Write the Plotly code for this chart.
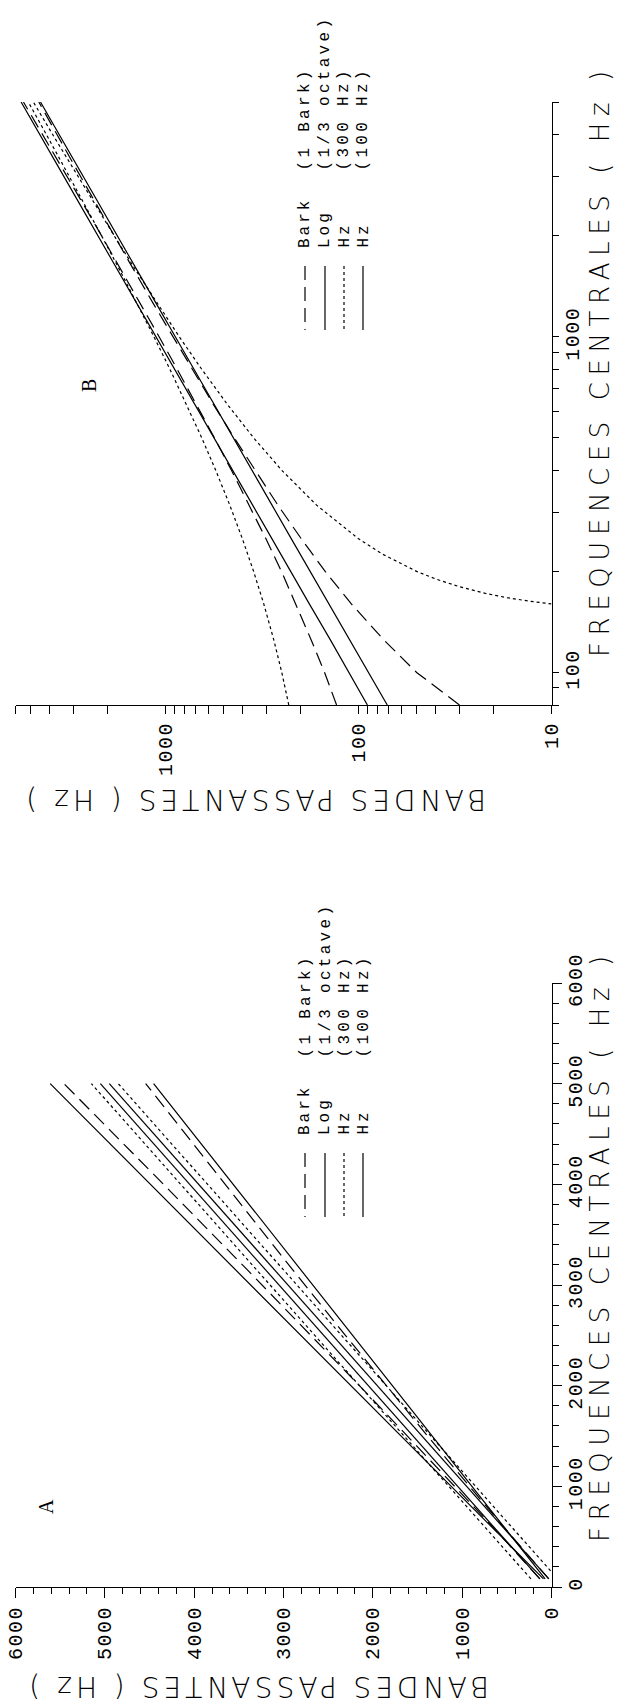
import numpy as np
import plotly.graph_objects as go

W, H = 628, 1706

# ---------------- data ----------------
FREQ = [80, 100, 125, 160, 200, 250, 315, 400, 500, 630, 800, 1000, 1250, 1600, 2000, 2500, 3150, 4000, 5000]
BARK_UP = [130, 150, 176, 211, 251, 302, 369, 456, 559, 693, 871, 1081, 1346, 1720, 2150, 2693, 3404, 4343, 5457]
BARK_LO = [30, 50, 74, 109, 149, 198, 262, 344, 441, 567, 729, 919, 1154, 1480, 1850, 2307, 2896, 3657, 4543]
LOG_UP = [90, 112, 140, 180, 224, 281, 354, 449, 561, 707, 898, 1122, 1403, 1796, 2245, 2806, 3536, 4490, 5612]
LOG_LO = [71, 89, 111, 143, 178, 223, 281, 356, 445, 561, 713, 891, 1114, 1425, 1782, 2227, 2806, 3564, 4454]
HZ300_UP = [230, 250, 275, 310, 350, 400, 465, 550, 650, 780, 950, 1150, 1400, 1750, 2150, 2650, 3300, 4150, 5150]
FREQ_300LO = [160, 163, 167, 172, 180, 190, 200, 225, 250, 315, 400, 500, 630, 800, 1000, 1250, 1600, 2000, 2500, 3150, 4000, 5000]
HZ300_LO = [10, 13, 17, 22, 30, 40, 50, 75, 100, 165, 250, 350, 480, 650, 850, 1100, 1450, 1850, 2350, 3000, 3850, 4850]
HZ100_UP = [130, 150, 175, 210, 250, 300, 365, 450, 550, 680, 850, 1050, 1300, 1650, 2050, 2550, 3200, 4050, 5050]
HZ100_LO = [30, 50, 75, 110, 150, 200, 265, 350, 450, 580, 750, 950, 1200, 1550, 1950, 2450, 3100, 3950, 4950]

LOG_BANDES_TICKS = [10, 20, 30, 40, 50, 60, 70, 80, 90, 100, 200, 300, 400, 500, 600, 700, 800, 900,
                    1000, 2000, 3000, 4000, 5000, 6000]
LOG_BANDES_LABELS = ["10", "", "", "", "", "", "", "", "", "100", "", "", "", "", "", "", "", "",
                     "1000", "", "", "", "", ""]
LOG_FREQ_TICKS = [80, 90, 100, 200, 300, 400, 500, 600, 700, 800, 900, 1000, 2000, 3000, 4000, 5000]
LOG_FREQ_LABELS = ["", "", "100", "", "", "", "", "", "", "", "", "1000", "", "", "", ""]
LIN_TICKS = [0, 1000, 2000, 3000, 4000, 5000, 6000]
LIN_LABELS = ["0", "1000", "2000", "3000", "4000", "5000", "6000"]

LEGEND_NAMES = ["Bark", "Log", "Hz", "Hz"]
LEGEND_DETAILS = ["(1 Bark)", "(1/3 octave)", "(300 Hz)", "(100 Hz)"]

FREQ_TITLE = "FREQUENCES CENTRALES ( Hz )"
BANDES_TITLE = "BANDES PASSANTES ( Hz )"

# ---------------- styles ----------------
INK = "black"
LW = 1.2
DASH_BARK = "14px,7px"
DASH_300 = "3px,3px"
TICK_FONT = dict(family="Liberation Mono", size=20, color=INK)
FTITLE_FONT = dict(family="DejaVu Sans", size=26, color=INK, weight=200)
BTITLE_FONT = dict(family="DejaVu Sans", size=28, color=INK, weight=200)
LEG_FONT = dict(family="Liberation Mono", size=16, color=INK)


def px(x):
    return x / W


def py(y):
    return 1 - y / H


def sp(t, ls):
    return f'<span style="letter-spacing:{ls}px">{t}</span>' if t else ""


fig = go.Figure()


def add(xs, ys, dash, xa, ya):
    fig.add_trace(go.Scatter(x=xs, y=ys, mode="lines", xaxis=xa, yaxis=ya, showlegend=False,
                             line=dict(color=INK, width=LW, dash=dash), hoverinfo="skip"))


# Panel B (log-log): Bark, 1/3 octave, 300 Hz ; Panel A (linear): all four
for xa, ya, with100 in [("x", "y", False), ("x2", "y2", True)]:
    add(BARK_UP, FREQ, DASH_BARK, xa, ya)
    add(BARK_LO, FREQ, DASH_BARK, xa, ya)
    add(LOG_UP, FREQ, "solid", xa, ya)
    add(LOG_LO, FREQ, "solid", xa, ya)
    add(HZ300_UP, FREQ, DASH_300, xa, ya)
    add(HZ300_LO, FREQ_300LO, DASH_300, xa, ya)
    if with100:
        add(HZ100_UP, FREQ, "solid", xa, ya)
        add(HZ100_LO, FREQ, "solid", xa, ya)

common = dict(showgrid=False, zeroline=False, showline=True, linecolor=INK, linewidth=LW,
              ticks="outside", tickcolor=INK, tickwidth=LW, tickangle=-90, tickfont=TICK_FONT,
              automargin=False, fixedrange=True)

X_DOM = [px(15.5), px(551.5)]
MINOR = dict(dtick=200, ticks="outside", ticklen=6, tickcolor=INK, tickwidth=LW)

fig.update_layout(
    width=W, height=H, margin=dict(l=0, r=0, t=0, b=0),
    paper_bgcolor="white", plot_bgcolor="white", showlegend=False,
    xaxis=dict(type="log", range=[np.log10(6000), 1], domain=X_DOM, anchor="y", side="bottom",
               tickmode="array", tickvals=LOG_BANDES_TICKS,
               ticktext=[sp(t, 1.5) for t in LOG_BANDES_LABELS], ticklen=8, **common),
    yaxis=dict(type="log", range=[np.log10(80), np.log10(5000)], domain=[py(705), py(102)],
               anchor="x", side="right", tickmode="array", tickvals=LOG_FREQ_TICKS,
               ticktext=[sp(t, 1.5) for t in LOG_FREQ_LABELS], ticklen=6, **common),
    xaxis2=dict(type="linear", range=[6000, 0], domain=X_DOM, anchor="y2", side="bottom",
                tickmode="array", tickvals=LIN_TICKS, ticktext=[sp(t, 1.5) for t in LIN_LABELS],
                ticklen=10, minor=MINOR, **common),
    yaxis2=dict(type="linear", range=[0, 6000], domain=[py(1587), py(983)], anchor="x2", side="right",
                tickmode="array", tickvals=LIN_TICKS, ticktext=[sp(t, 1.5) for t in LIN_LABELS],
                ticklen=9, minor=MINOR, **common),
)
try:
    fig.update_yaxes(ticklabelstandoff=-4)
except Exception:
    pass

ann = []
shapes = []
# axis titles (the whole figure is turned a quarter turn)
for yc in [361, 1246]:
    ann.append(dict(x=px(600), y=py(yc), xref="paper", yref="paper", text=sp(FREQ_TITLE, 6.6),
                    textangle=-90, showarrow=False, xanchor="center", yanchor="middle", font=FTITLE_FONT))
for (xc, yc) in [(254, 800), (257, 1687)]:
    ann.append(dict(x=px(xc), y=py(yc), xref="paper", yref="paper", text=sp(BANDES_TITLE, 4),
                    textangle=180, showarrow=False, xanchor="center", yanchor="middle", font=BTITLE_FONT))
# panel letters
for (t, xc, yc) in [("B", 89, 386), ("A", 46, 1507)]:
    ann.append(dict(x=px(xc), y=py(yc), xref="paper", yref="paper", text=t, textangle=-90,
                    showarrow=False, xanchor="center", yanchor="middle",
                    font=dict(family="Liberation Serif", size=20, color=INK)))

# legends (rotated)
LEG_X = [305, 325, 344, 363]
LEG_DASH = [DASH_BARK, "solid", DASH_300, "solid"]
for off in [0, 887]:
    for i in range(4):
        ann.append(dict(x=px(LEG_X[i]), y=py(250 + off), xref="paper", yref="paper",
                        text=sp(LEGEND_NAMES[i], 3), textangle=-90, showarrow=False,
                        xanchor="center", yanchor="bottom", font=LEG_FONT))
        ann.append(dict(x=px(LEG_X[i]), y=py(173 + off), xref="paper", yref="paper",
                        text=sp(LEGEND_DETAILS[i], 3.3), textangle=-90, showarrow=False,
                        xanchor="center", yanchor="bottom", font=LEG_FONT))
        shapes.append(dict(type="line", xref="paper", yref="paper",
                           x0=px(LEG_X[i]), x1=px(LEG_X[i]), y0=py(266 + off), y1=py(330 + off),
                           line=dict(color=INK, width=LW, dash=LEG_DASH[i])))

fig.update_layout(annotations=ann, shapes=shapes)

fig.write_html("out.html", config={"displayModeBar": False},
               post_script="document.body.style.margin='0px';document.body.style.overflow='hidden';")
